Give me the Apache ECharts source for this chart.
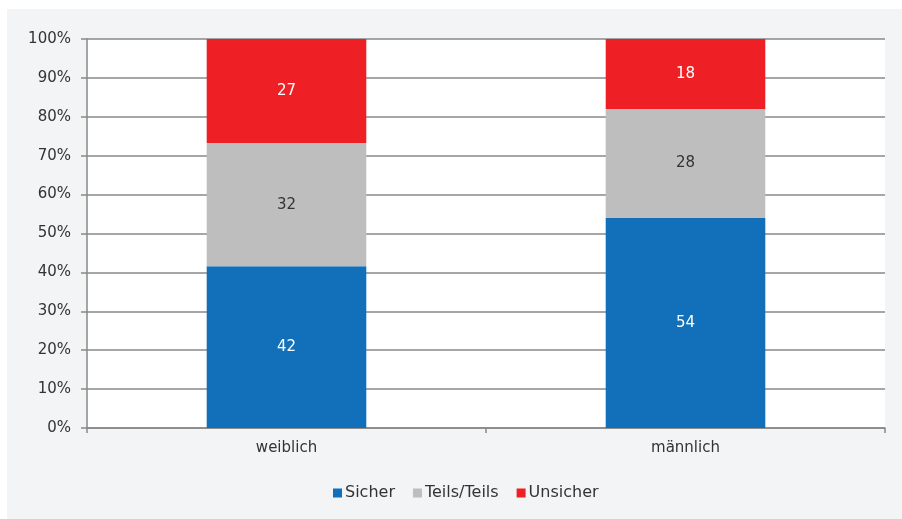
<!DOCTYPE html>
<html>
<head>
<meta charset="utf-8">
<script src="https://cdn.jsdelivr.net/npm/echarts@6/dist/echarts.min.js"></script>
<style>
    html, body { margin: 0; padding: 0; background: #fff; }
    #main { width: 902px; height: 519px; }
</style>
</head>
<body>
<div id="main"></div>
<script>
    // Daten
    var categories = ['weiblich', 'männlich'];
    var sicher = [42, 54];
    var teils = [32, 28];
    var unsicher = [27, 18];
    var seriesNames = ['Sicher', 'Teils/Teils', 'Unsicher'];
    var colors = ['#1170b9', '#bebebe', '#ee1f25'];

    // Anteile je Kategorie (gestapelt auf 100%)
    var totals = categories.map(function (c, i) { return sicher[i] + teils[i] + unsicher[i]; });
    function share(arr) {
        return arr.map(function (v, i) { return { value: v / totals[i] * 100, raw: v }; });
    }

    var myChart = echarts.init(document.getElementById('main'));
    var font = '"DejaVu Sans", sans-serif';

    function barSeries(name, arr, labelColor, color) {
        return {
            name: name,
            type: 'bar',
            stack: 'total',
            barWidth: '40%',
            data: share(arr),
            itemStyle: { color: color },
            label: {
                show: true,
                position: 'inside',
                color: labelColor,
                fontSize: 15,
                fontFamily: font,
                formatter: function (p) { return p.data.raw; }
            }
        };
    }

    var option = {
        backgroundColor: '#fff',
        animation: false,
        graphic: [{
            type: 'rect',
            z: -10,
            shape: { x: 7, y: 9, width: 895, height: 510 },
            style: { fill: '#f3f4f6' }
        }],
        grid: {
            left: 87, right: 17, top: 39, bottom: 91,
            show: true, backgroundColor: '#fff', borderWidth: 0
        },
        legend: {
            left: 328,
            bottom: 13,
            itemWidth: 9,
            itemHeight: 9,
            itemGap: 18,
            icon: 'rect',
            textStyle: { color: '#333', fontSize: 16, fontFamily: font, padding: [0, 0, 0, -2] },
            data: seriesNames
        },
        xAxis: {
            type: 'category',
            data: categories,
            axisLine: { lineStyle: { color: '#888', width: 1.5 } },
            axisTick: { show: true, length: 5, lineStyle: { color: '#888', width: 1.5 } },
            axisLabel: { color: '#333', fontSize: 15, fontFamily: font, margin: 13 }
        },
        yAxis: {
            type: 'value',
            min: 0, max: 100, interval: 10,
            axisLine: { show: true, lineStyle: { color: '#888', width: 1.5 } },
            axisTick: { show: true, length: 6, lineStyle: { color: '#888', width: 1.5 } },
            splitLine: { lineStyle: { color: '#888', width: 1.5 } },
            axisLabel: { color: '#333', fontSize: 15, fontFamily: font, margin: 16, formatter: '{value}%' }
        },
        series: [
            barSeries(seriesNames[0], sicher, '#fff', colors[0]),
            barSeries(seriesNames[1], teils, '#333', colors[1]),
            barSeries(seriesNames[2], unsicher, '#fff', colors[2])
        ]
    };
    myChart.setOption(option);
</script>
</body>
</html>
